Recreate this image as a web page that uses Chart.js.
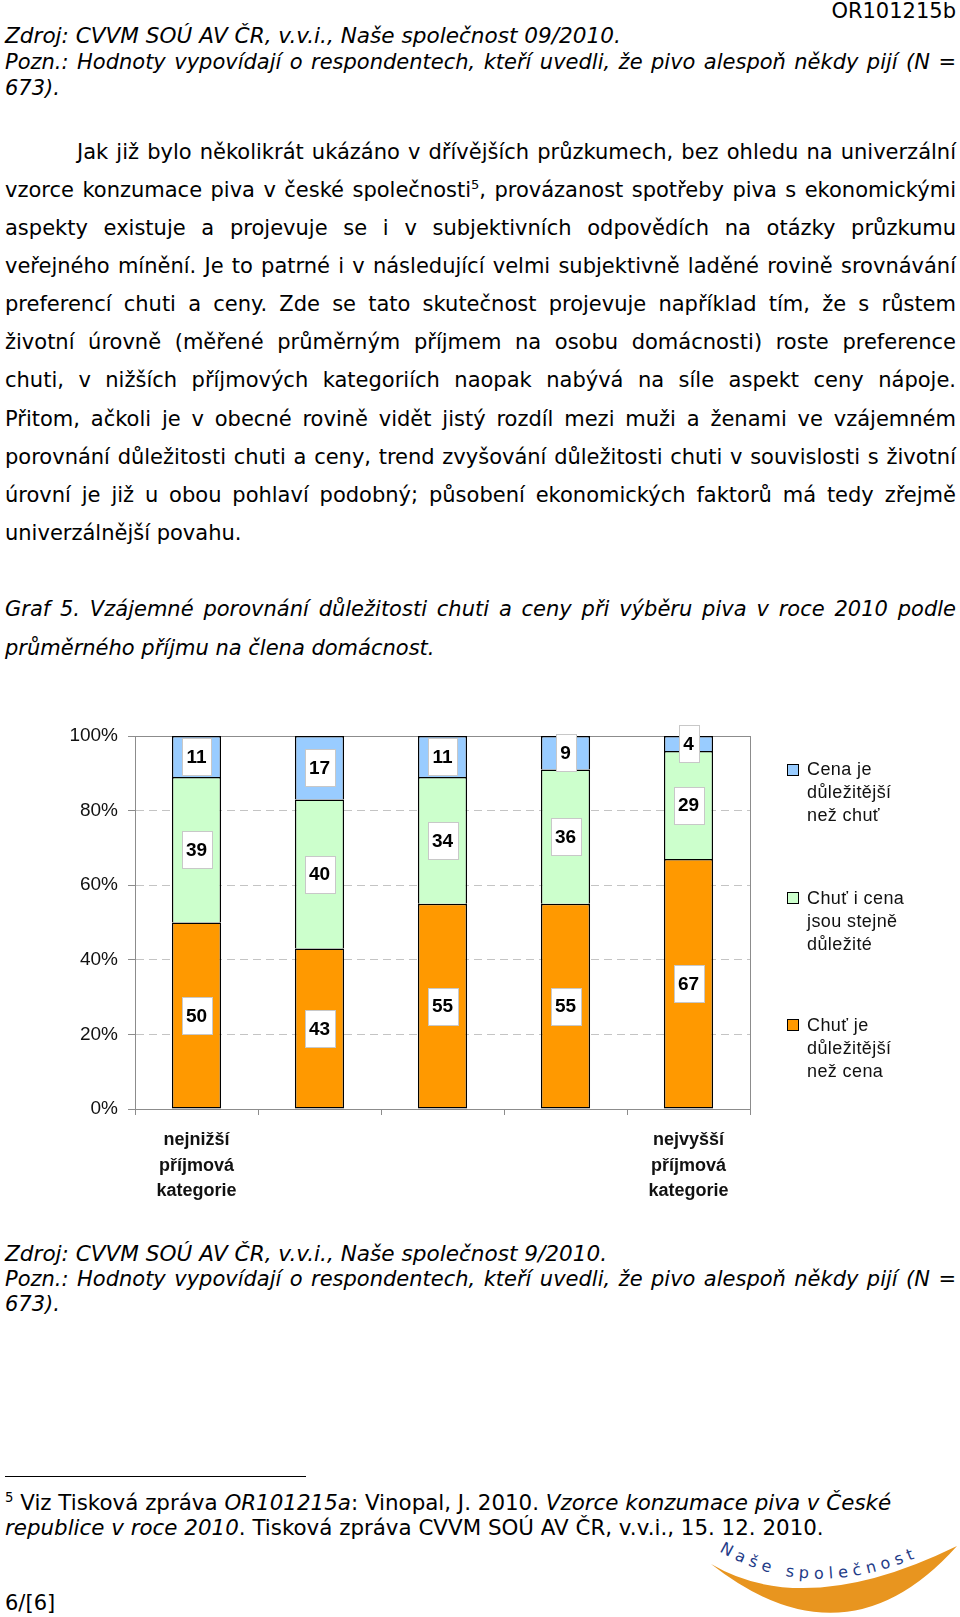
<!DOCTYPE html>
<html lang="cs">
<head>
<meta charset="utf-8">
<script src="https://cdn.jsdelivr.net/npm/chart.js@4.4.0/dist/chart.umd.min.js"></script>
<style>
  html, body { margin: 0; padding: 0; background: #fff; }
  body {
    width: 960px; height: 1617px; position: relative; overflow: hidden;
    font-family: 'DejaVu Sans', Verdana, sans-serif; font-size: 21px; color: #000;
  }
  .t { position: absolute; left: 5px; width: 951px; height: 26px; line-height: 26px; white-space: nowrap; }
  .j { text-align: justify; text-align-last: justify; }
  .r { text-align: right; }
  .it { font-style: italic; }
  .src { font-size: 21.6px; }
  .fn { font-size: 21.4px; }
  sup { font-size: 0.62em; line-height: 0; vertical-align: 0.6em; }
  #chartBox { position: absolute; left: 0; top: 700px; width: 960px; height: 500px; }
  .lg-box { position: absolute; width: 10px; height: 10px; border: 1px solid #000; }
  .lg-txt { position: absolute; font: 18px 'Liberation Sans', Arial, sans-serif; line-height: 23px; color: #111; letter-spacing: 0.4px; white-space: nowrap; }
  #rule { position: absolute; left: 5px; top: 1476px; width: 301px; height: 1px; background: #000; }
</style>
</head>
<body>

<div class="t r" style="top:-2px;">OR101215b</div>
<div class="t it src" style="top:23px;">Zdroj: CVVM SOÚ AV ČR, v.v.i., Naše společnost 09/2010.</div>
<div class="t it j" style="top:49px;">Pozn.: Hodnoty vypovídají o respondentech, kteří uvedli, že pivo alespoň někdy pijí (N =</div>
<div class="t it" style="top:75px;">673).</div>

<div class="t j" style="top:139px; left:77px; width:879px;">Jak již bylo několikrát ukázáno v dřívějších průzkumech, bez ohledu na univerzální</div>
<div class="t j" style="top:177px;">vzorce konzumace piva v české společnosti<sup>5</sup>, provázanost spotřeby piva s ekonomickými</div>
<div class="t j" style="top:215px;">aspekty existuje a projevuje se i v&nbsp;subjektivních odpovědích na otázky průzkumu</div>
<div class="t j" style="top:253px;">veřejného mínění. Je to patrné i v následující velmi subjektivně laděné rovině srovnávání</div>
<div class="t j" style="top:291px;">preferencí chuti a ceny. Zde se tato skutečnost projevuje například tím, že s&nbsp;růstem</div>
<div class="t j" style="top:329px;">životní úrovně (měřené průměrným příjmem na osobu domácnosti) roste preference</div>
<div class="t j" style="top:367px;">chuti, v&nbsp;nižších příjmových kategoriích naopak nabývá na síle aspekt ceny nápoje.</div>
<div class="t j" style="top:406px;">Přitom, ačkoli je v&nbsp;obecné rovině vidět jistý rozdíl mezi muži a ženami ve vzájemném</div>
<div class="t j" style="top:444px;">porovnání důležitosti chuti a ceny, trend zvyšování důležitosti chuti v souvislosti s životní</div>
<div class="t j" style="top:482px;">úrovní je již u obou pohlaví podobný; působení ekonomických faktorů má tedy zřejmě</div>
<div class="t" style="top:520px;">univerzálnější povahu.</div>

<div class="t it j" style="top:596px;">Graf 5.&nbsp;Vzájemné porovnání důležitosti chuti a ceny při výběru piva v&nbsp;roce 2010 podle</div>
<div class="t it" style="top:635px;">průměrného příjmu na člena domácnost.</div>

<div id="chartBox"><canvas id="chart" width="960" height="500"></canvas></div>
<div id="legend"></div>

<div class="t it src" style="top:1241px;">Zdroj: CVVM SOÚ AV ČR, v.v.i., Naše společnost 9/2010.</div>
<div class="t it j" style="top:1266px;">Pozn.: Hodnoty vypovídají o respondentech, kteří uvedli, že pivo alespoň někdy pijí (N =</div>
<div class="t it" style="top:1291px;">673).</div>

<div id="rule"></div>
<div class="t fn" style="top:1490px;"><sup>5</sup> Viz Tisková zpráva <i>OR101215a</i>: Vinopal, J. 2010. <i>Vzorce konzumace piva v České</i></div>
<div class="t fn" style="top:1515px;"><i>republice v roce 2010</i>. Tisková zpráva CVVM SOÚ AV ČR, v.v.i., 15. 12. 2010.</div>
<div class="t" style="top:1590px;">6/[6]</div>

<svg style="position:absolute; left:690px; top:1520px;" width="270" height="97" viewBox="690 1520 270 97">
  <path d="M711,1564 Q806,1620 957,1546 Q846,1670 711,1564 Z" fill="#E8951F"/>
  <path id="arc" d="M719,1551 Q812,1606 930,1552" fill="none"/>
  <text font-family="'DejaVu Sans', sans-serif" font-size="16" fill="#1F3C88" letter-spacing="5.2"><textPath href="#arc">Naše společnost</textPath></text>
</svg>

<script>
// ---- chart data ----
const categories = [['nejnižší', 'příjmová', 'kategorie'], '', '', '', ['nejvyšší', 'příjmová', 'kategorie']];
const tasteMore = [50, 43, 55, 55, 67];   // Chuť je důležitější než cena
const bothEqual = [39, 40, 34, 36, 29];   // Chuť i cena jsou stejně důležité
const priceMore = [11, 17, 11, 9, 4];     // Cena je důležitější než chuť
const yTicks = [0, 20, 40, 60, 80, 100];
const seriesNames = ['Chuť je důležitější než cena', 'Chuť i cena jsou stejně důležité', 'Cena je důležitější než chuť'];
const legendLines = [['Chuť je', 'důležitější', 'než cena'], ['Chuť i cena', 'jsou stejně', 'důležité'], ['Cena je', 'důležitější', 'než chuť']];
const seriesColors = ['#FF9900', '#CCFFCC', '#99CCFF'];

const AXIS = '#8c8c8c';
const GRID = '#c4c4c4';
const CHART_FONT = "'Liberation Sans', Arial, sans-serif";

// fit justified lines on one row
document.querySelectorAll('.t').forEach(el => {
  const natural = el.scrollWidth;
  const avail = el.clientWidth;
  if (natural > avail) {
    const n = el.textContent.length;
    el.style.letterSpacing = ((avail - natural) / n - 0.05).toFixed(3) + 'px';
  }
  el.style.whiteSpace = 'normal';
});

// white boxed value labels in the middle of every segment
const boxLabels = {
  id: 'boxLabels',
  afterDatasetsDraw(chart) {
    const c = chart.ctx;
    c.save();
    c.font = 'bold 19px ' + CHART_FONT;
    c.textAlign = 'center';
    c.textBaseline = 'middle';
    chart.data.datasets.forEach((ds, di) => {
      chart.getDatasetMeta(di).data.forEach((bar, i) => {
        const txt = String(ds.data[i]);
        const cy = (bar.y + bar.base) / 2;
        const w = Math.round(c.measureText(txt).width + 9);
        const h = 37;
        const x0 = Math.round(bar.x - w / 2);
        const y0 = Math.round(cy - h / 2);
        c.fillStyle = '#fff';
        c.fillRect(x0, y0, w, h);
        c.strokeStyle = '#c8c8c8';
        c.lineWidth = 1;
        c.strokeRect(x0 + 0.5, y0 + 0.5, w, h);
        c.fillStyle = '#000';
        c.fillText(txt, bar.x, cy + 1);
      });
    });
    c.restore();
  }
};

// lower segment keeps all four edges, upper ones skip the shared bottom edge
const datasets = [tasteMore, bothEqual, priceMore].map((d, i) => ({
  label: seriesNames[i],
  data: d,
  backgroundColor: seriesColors[i],
  borderColor: '#000',
  borderWidth: 1.5,
  borderSkipped: i === 0 ? false : 'bottom',
  barPercentage: 0.4,
  categoryPercentage: 1.0,
}));

new Chart(document.getElementById('chart').getContext('2d'), {
  type: 'bar',
  data: { labels: categories, datasets: datasets },
  options: {
    responsive: false,
    animation: false,
    devicePixelRatio: 1,
    layout: { padding: { top: 36, right: 210, bottom: 0, left: 0 } },
    plugins: { legend: { display: false }, tooltip: { enabled: false } },
    scales: {
      x: {
        stacked: true,
        grid: {
          offset: true,
          color: c => c.type === 'scale' ? AXIS : 'rgba(0,0,0,0)',
          tickColor: AXIS,
          tickLength: 6,
        },
        border: { color: AXIS, width: 1 },
        ticks: {
          autoSkip: false, maxRotation: 0, padding: 12.5, color: '#111',
          font: { family: CHART_FONT, size: 18, weight: 'bold', lineHeight: '25.5px' },
        },
        afterFit: s => { s.height = 91; },
      },
      y: {
        stacked: true,
        min: 0, max: 100,
        afterBuildTicks: s => { s.ticks = yTicks.map(v => ({ value: v })); },
        grid: {
          color: c => !c.tick || c.tick.value === 0 ? 'rgba(0,0,0,0)' : (c.tick.value === 100 ? AXIS : GRID),
          tickColor: AXIS,
          tickLength: 7,
        },
        border: { color: AXIS, width: 1, dash: c => (c.tick && c.tick.value < 100) ? [8, 5] : [] },
        ticks: {
          padding: 10, color: '#111',
          font: { family: CHART_FONT, size: 19 },
          callback: v => v + '%',
        },
        afterFit: s => { s.width = 135; },
      },
    },
  },
  plugins: [boxLabels],
});

// legend (top entry = top segment)
const legendTops = [769.5, 898, 1025];
const lg = document.getElementById('legend');
[2, 1, 0].forEach((si, k) => {
  const box = document.createElement('div');
  box.className = 'lg-box';
  box.style.left = '787px';
  box.style.top = (legendTops[k] - 6) + 'px';
  box.style.background = seriesColors[si];
  lg.appendChild(box);
  const txt = document.createElement('div');
  txt.className = 'lg-txt';
  txt.style.left = '807px';
  txt.style.top = (legendTops[k] - 11.5) + 'px';
  txt.innerHTML = legendLines[si].join('<br>');
  lg.appendChild(txt);
});
</script>
</body>
</html>
